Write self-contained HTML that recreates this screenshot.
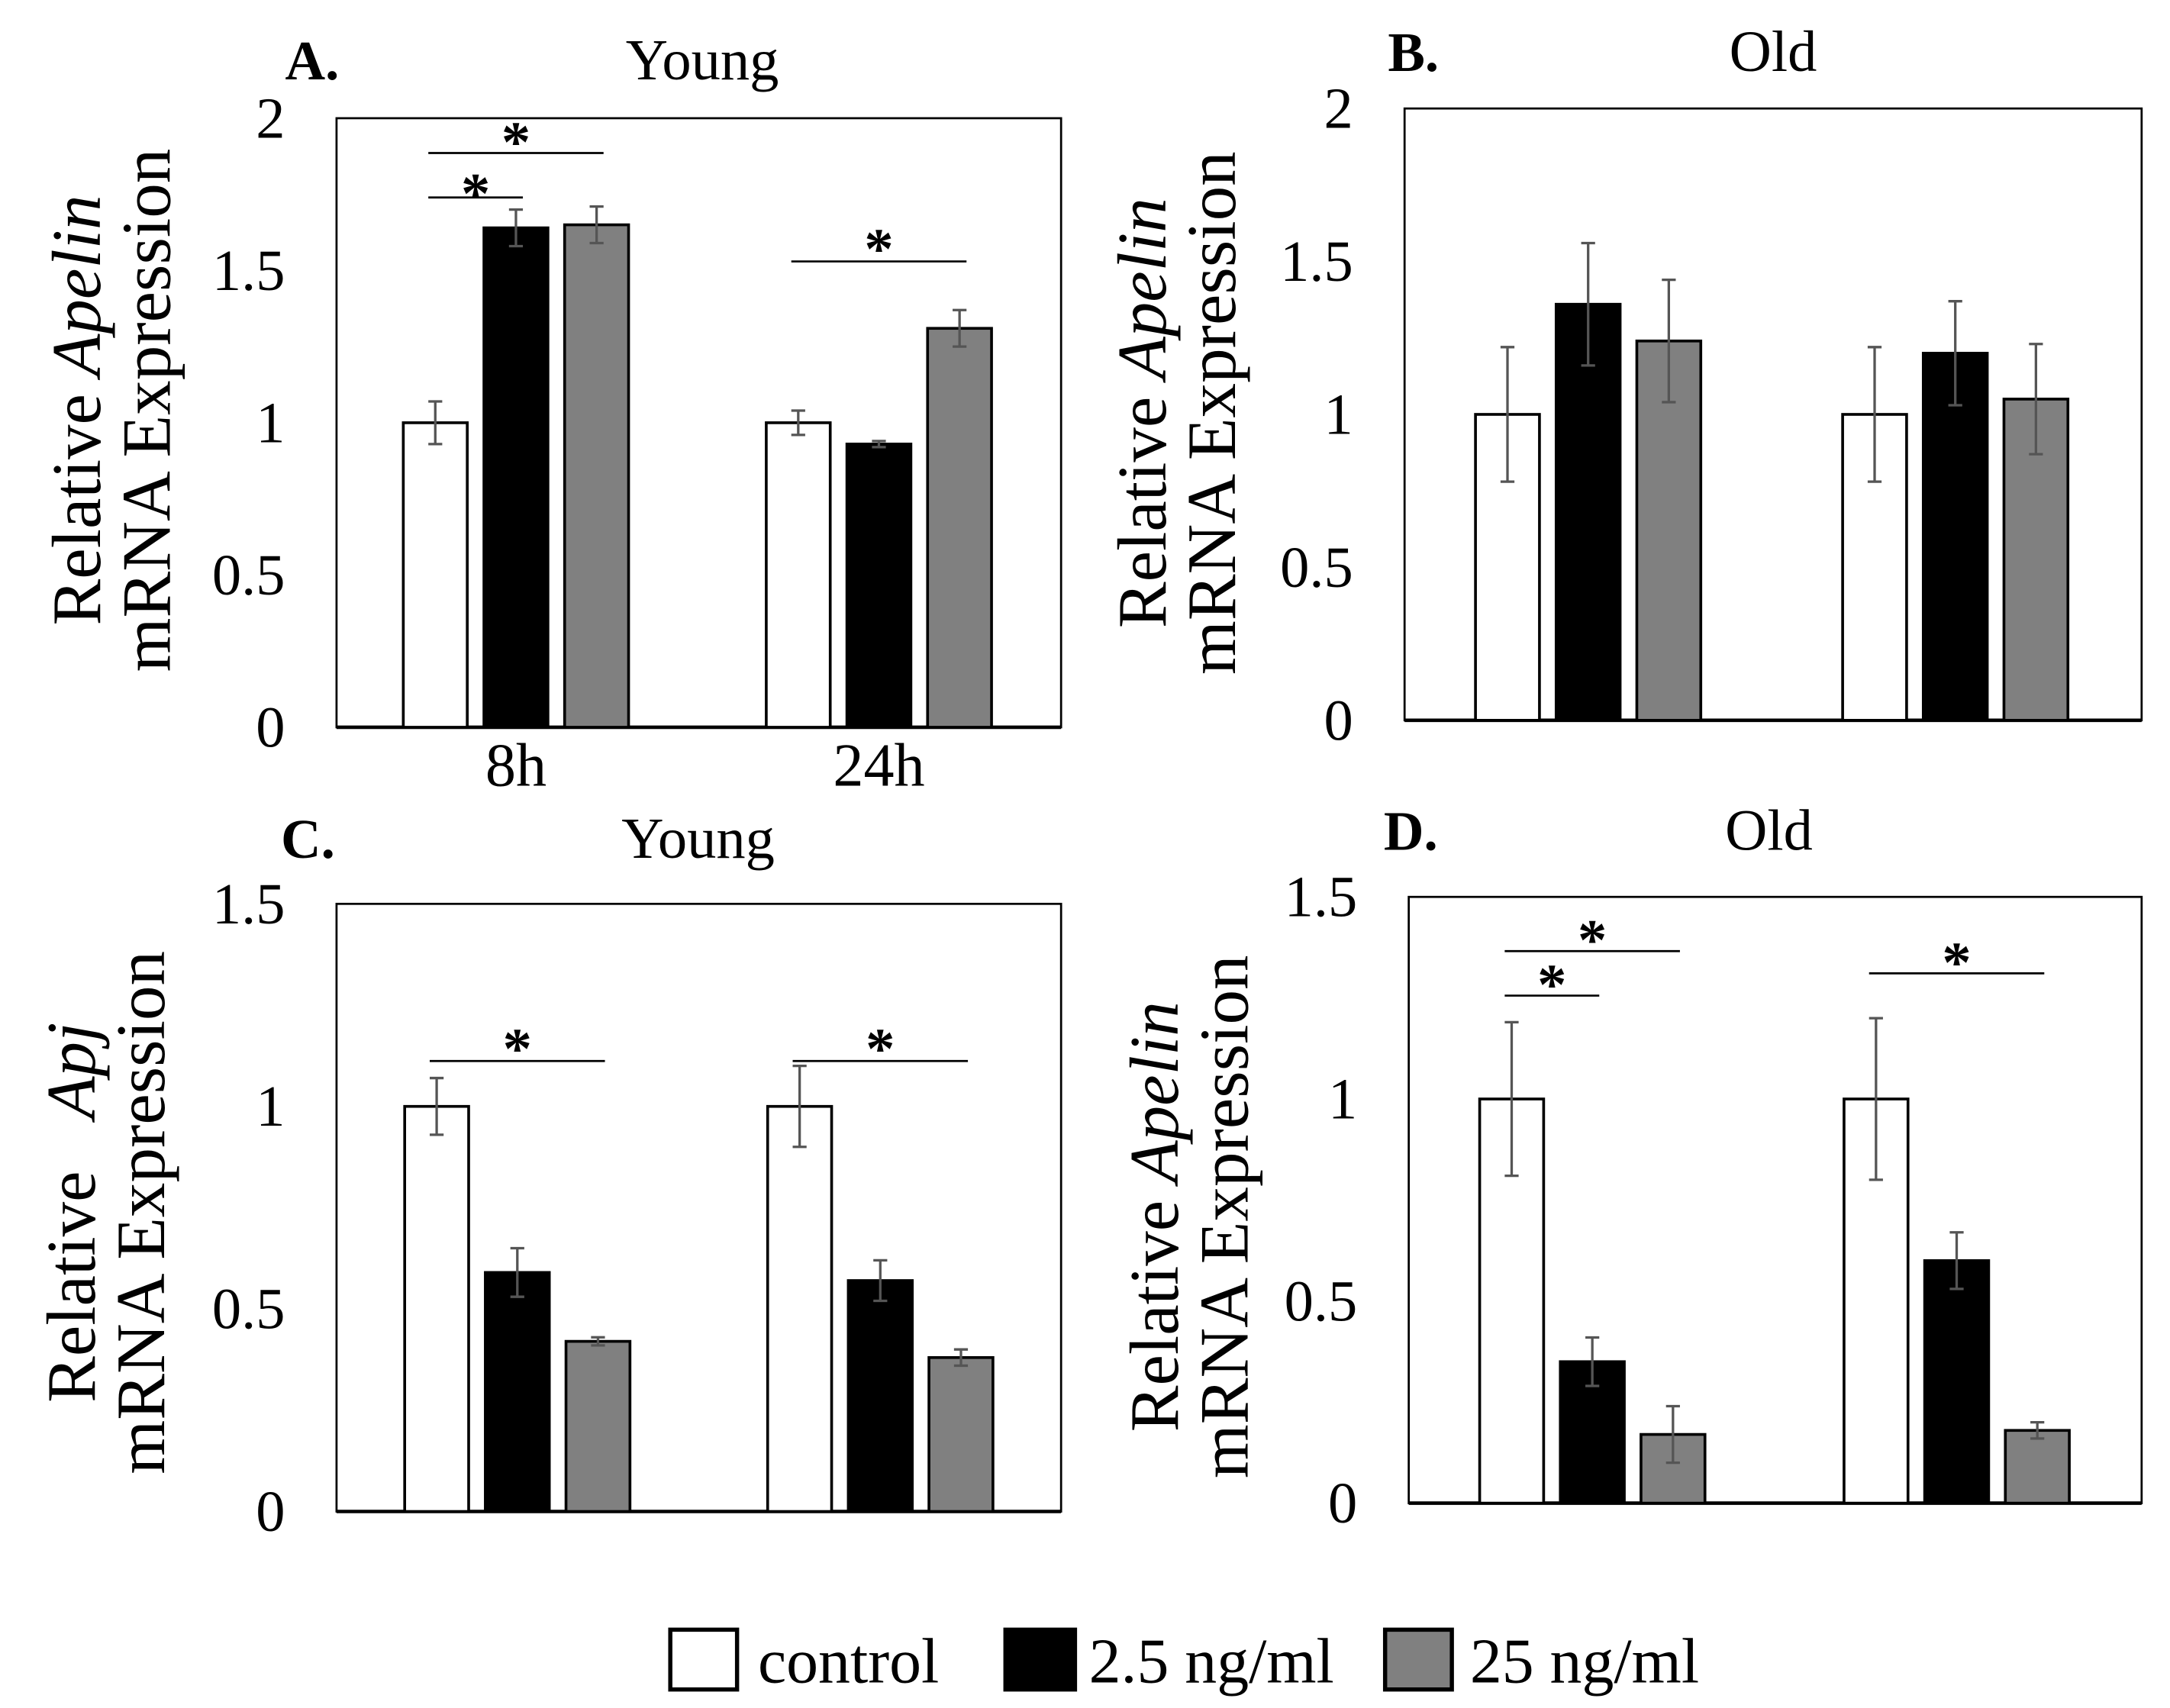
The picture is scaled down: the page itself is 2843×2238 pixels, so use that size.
<!DOCTYPE html>
<html><head><meta charset="utf-8"><style>html,body{margin:0;padding:0;background:#fff}svg{display:block}</style></head>
<body>
<svg id="fig" xmlns="http://www.w3.org/2000/svg" width="2843" height="2238" viewBox="0 0 1560.4 1228.3" font-family="'Liberation Serif', serif">
<rect width="1560.4" height="1228.3" fill="#fff"/>
<g id="root"></g>
<g font-size="46">
<rect x="482" y="1172" width="48" height="43" fill="#fff" stroke="#000" stroke-width="3"/>
<text x="545" y="1210">control</text>
<rect x="723" y="1172" width="50" height="43" fill="#000" stroke="#000" stroke-width="3"/>
<text x="783" y="1210">2.5 ng/ml</text>
<rect x="996" y="1172" width="48" height="43" fill="#808080" stroke="#000" stroke-width="3"/>
<text x="1057" y="1210">25 ng/ml</text>
</g>
</svg>
<script>
const seriesNames = ["control","2.5 ng/ml","25 ng/ml"];
const fills = ["#fff","#000","#808080"];
const groupsA = ["8h","24h"];
const valuesA = [[1.0,1.64,1.65],[1.0,0.93,1.31]];
const errorsA = [[0.07,0.06,0.06],[0.04,0.01,0.06]];
const ticksA = [0,0.5,1,1.5,2];
const tickLabelsA = ["0","0.5","1","1.5","2"];
const valuesB = [[1.0,1.36,1.24],[1.0,1.2,1.05]];
const errorsB = [[0.22,0.2,0.2],[0.22,0.17,0.18]];
const ticksB = [0,0.5,1,1.5,2];
const tickLabelsB = ["0","0.5","1","1.5","2"];
const valuesC = [[1.0,0.59,0.42],[1.0,0.57,0.38]];
const errorsC = [[0.07,0.06,0.01],[0.1,0.05,0.02]];
const ticksC = [0,0.5,1,1.5];
const tickLabelsC = ["0","0.5","1","1.5"];
const valuesD = [[1.0,0.35,0.17],[1.0,0.6,0.18]];
const errorsD = [[0.19,0.06,0.07],[0.2,0.07,0.02]];
const ticksD = [0,0.5,1,1.5];
const tickLabelsD = ["0","0.5","1","1.5"];

const NS="http://www.w3.org/2000/svg";
const root=document.getElementById('root');
function mk(tag,attrs,parent,txt){const e=document.createElementNS(NS,tag);for(const k in attrs)e.setAttribute(k,attrs[k]);if(txt!==undefined)e.textContent=txt;(parent||root).appendChild(e);return e;}

const panels=[
 {id:'a',L:242,R:763,T:85,B:523,max:2,vals:valuesA,errs:errorsA,ticks:ticksA,tl:tickLabelsA,c:[371,632],letter:'A.',lx:205,ly:57,title:'Young',tx:505,ty:57,gene:'Apelin',sp:'',yl:[72,122],cy:295,xl:groupsA,
  sig:[[0,0,1,142,133],[0,0,2,110,96],[1,0,2,188,173]]},
 {id:'b',L:1010,R:1540,T:78,B:518,max:2,vals:valuesB,errs:errorsB,ticks:ticksB,tl:tickLabelsB,c:[1142,1406],letter:'B.',lx:998,ly:51,title:'Old',tx:1275,ty:51,gene:'Apelin',sp:'',yl:[838,888],cy:297,xl:null,sig:[]},
 {id:'c',L:242,R:763,T:650,B:1087,max:1.5,vals:valuesC,errs:errorsC,ticks:ticksC,tl:tickLabelsC,c:[372,633],letter:'C.',lx:202,ly:617,title:'Young',tx:502,ty:617,gene:'Apj',sp:'\u00a0\u00a0',yl:[68,118],cy:872,xl:null,
  sig:[[0,0,2,763,748],[1,0,2,763,748]]},
 {id:'d',L:1013,R:1540,T:645,B:1081,max:1.5,vals:valuesD,errs:errorsD,ticks:ticksD,tl:tickLabelsD,c:[1145,1407],letter:'D.',lx:995,ly:611,title:'Old',tx:1272,ty:611,gene:'Apelin',sp:'',yl:[847,897],cy:875,xl:null,
  sig:[[0,0,1,716,702],[0,0,2,684,670],[1,0,2,700,686]]}
];
const bw=46, step=58;
panels.forEach(p=>{
  const g=mk('g',{});
  
  
  const y=v=>p.B-(v/p.max)*(p.B-p.T);
  const xb=(gi,si)=>p.c[gi]+(si-1)*step;
  const fr=mk('rect',{x:p.L,y:p.T,width:p.R-p.L,height:p.B-p.T,fill:'none',stroke:'#000','stroke-width':1.5},g);
  
  
  mk('line',{x1:p.L,x2:p.R,y1:p.B,y2:p.B,stroke:'#000','stroke-width':2.5},g);
  p.ticks.forEach((t,i)=>{
    const tx=mk('text',{x:p.L-37,y:y(t)+14,'font-size':42,'text-anchor':'end'},g,p.tl[i]);
    
    
  });
  p.vals.forEach((grp,gi)=>grp.forEach((v,si)=>{
    const cx=xb(gi,si);
    const r=mk('rect',{x:cx-bw/2,y:y(v),width:bw,height:p.B-y(v),fill:fills[si],stroke:'#000','stroke-width':2},g);
    
    
    const e=p.errs[gi][si];
    const eb=mk('path',{d:`M${cx} ${y(v+e)}V${y(v-e)}M${cx-5} ${y(v+e)}h10M${cx-5} ${y(v-e)}h10`,stroke:'#555','stroke-width':1.8,fill:'none'},g);
    
    
  }));
  p.sig.forEach(s=>{
    const x1=xb(s[0],s[1])-5, x2=xb(s[0],s[2])+5;
    const ln=mk('line',{x1:x1,x2:x2,y1:s[3],y2:s[3],stroke:'#000','stroke-width':1.5},g);
    
    
    const st=mk('text',{x:(x1+x2)/2,y:s[4]+20,'font-size':42,'text-anchor':'middle','font-weight':'bold'},g,'*');
    
    
  });
  if(p.xl) p.xl.forEach((l,gi)=>{
    const t=mk('text',{x:p.c[gi],y:p.B+42,'font-size':44,'text-anchor':'middle'},g,l);
    
    
  });
  const lt=mk('text',{x:p.lx,y:p.ly,'font-size':40,'font-weight':'bold'},g,p.letter);
  
  
  const tt=mk('text',{x:p.tx,y:p.ty,'font-size':42,'text-anchor':'middle'},g,p.title);
  
  
  const t1=mk('text',{x:0,y:0,'font-size':50,'text-anchor':'middle',transform:`translate(${p.yl[0]},${p.cy}) rotate(-90)`},g);
  
  
  mk('tspan',{},t1,'Relative '+p.sp);
  mk('tspan',{'font-style':'italic'},t1,p.gene);
  const t2=mk('text',{x:0,y:0,'font-size':50,'text-anchor':'middle',transform:`translate(${p.yl[1]},${p.cy}) rotate(-90)`},g,'mRNA Expression');
  
  
});
</script>
</body></html>
